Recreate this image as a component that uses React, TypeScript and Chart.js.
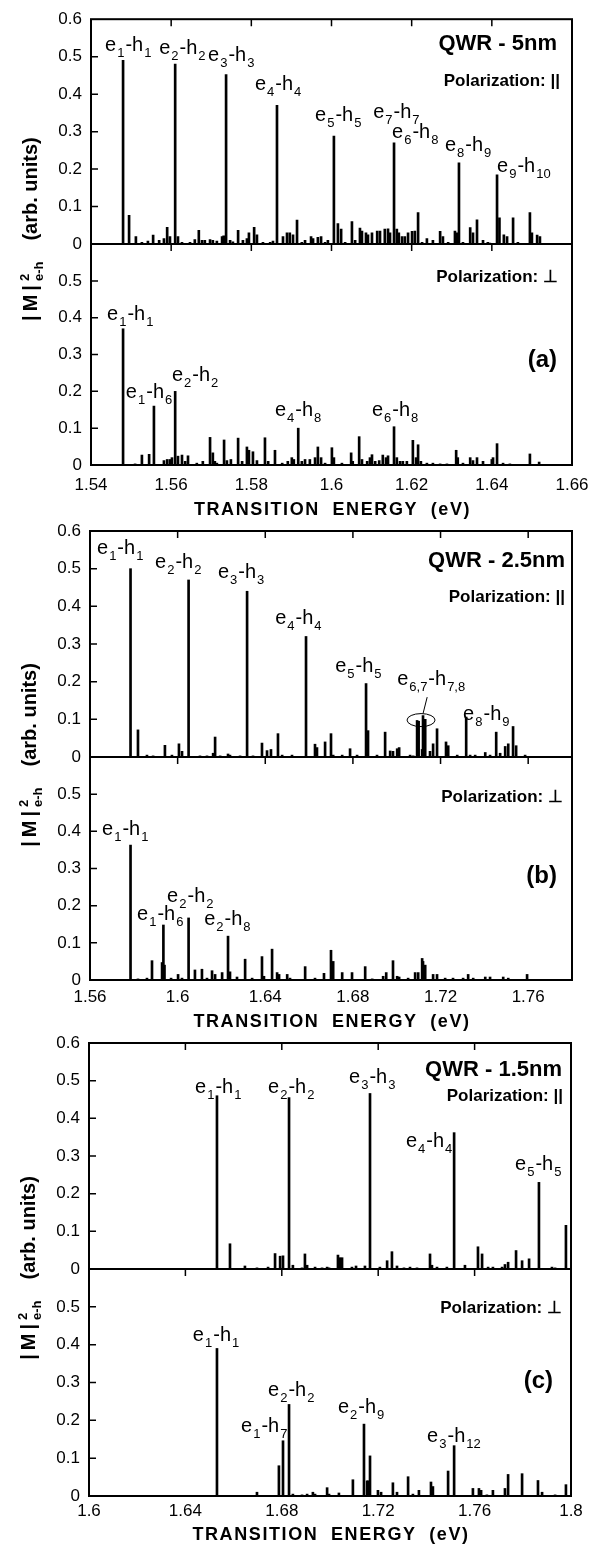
import React, { useEffect, useRef } from 'react';
import { Chart, registerables } from 'chart.js';

Chart.register(...registerables);

const FONT = '"Liberation Sans", Arial, Helvetica, sans-serif';

// ---------------- Panel (a): QWR - 5nm ----------------
const aTicks = [1.54, 1.56, 1.58, 1.6, 1.62, 1.64, 1.66];
const aPar: [number, number][] = [
  [1.548, 0.49], [1.5495, 0.077], [1.5512, 0.02], [1.5527, 0.005], [1.5542, 0.008], [1.5555, 0.024],
  [1.557, 0.01], [1.5582, 0.015], [1.559, 0.045], [1.5597, 0.02], [1.561, 0.48], [1.5617, 0.02],
  [1.5627, 0.005], [1.5647, 0.005], [1.5659, 0.012], [1.5669, 0.037], [1.5677, 0.01], [1.5684, 0.01],
  [1.5697, 0.012], [1.5704, 0.01], [1.5714, 0.008], [1.5727, 0.02], [1.5731, 0.022], [1.5737, 0.452],
  [1.5747, 0.01], [1.5754, 0.006], [1.5767, 0.037], [1.5779, 0.01], [1.5789, 0.015], [1.5794, 0.03],
  [1.5807, 0.045], [1.5814, 0.025], [1.5829, 0.005], [1.5847, 0.005], [1.5854, 0.008], [1.5864, 0.37],
  [1.5879, 0.02], [1.5889, 0.03], [1.5896, 0.03], [1.5904, 0.025], [1.5914, 0.064], [1.5926, 0.005],
  [1.5934, 0.01], [1.5949, 0.02], [1.5954, 0.015], [1.5966, 0.018], [1.5974, 0.02], [1.5984, 0.005],
  [1.5991, 0.01], [1.6006, 0.288], [1.6016, 0.055], [1.6024, 0.04], [1.6034, 0.005], [1.6051, 0.06],
  [1.6059, 0.01], [1.6071, 0.043], [1.6076, 0.035], [1.6086, 0.03], [1.6091, 0.025], [1.6101, 0.03],
  [1.6114, 0.035], [1.6121, 0.035], [1.6133, 0.04], [1.6141, 0.041], [1.6146, 0.03], [1.6156, 0.27],
  [1.6163, 0.04], [1.6168, 0.03], [1.6176, 0.02], [1.6183, 0.02], [1.6191, 0.03], [1.6201, 0.034],
  [1.6208, 0.035], [1.6216, 0.084], [1.6226, 0.005], [1.6238, 0.015], [1.6253, 0.01], [1.6271, 0.034],
  [1.6278, 0.02], [1.6291, 0.005], [1.6308, 0.035], [1.6313, 0.03], [1.6318, 0.217], [1.6328, 0.005],
  [1.6346, 0.044], [1.6353, 0.03], [1.6363, 0.065], [1.6378, 0.01], [1.639, 0.005], [1.6395, 0.003],
  [1.6413, 0.185], [1.6419, 0.07], [1.643, 0.025], [1.6438, 0.02], [1.6453, 0.07], [1.6465, 0.005],
  [1.6495, 0.084], [1.65, 0.03], [1.6513, 0.024], [1.652, 0.02],
];
const aPerp: [number, number][] = [
  [1.548, 0.37], [1.551, 0.003], [1.5527, 0.027], [1.5545, 0.029], [1.5557, 0.16], [1.5582, 0.012],
  [1.559, 0.015], [1.5597, 0.015], [1.5602, 0.02], [1.561, 0.2], [1.5617, 0.024], [1.5627, 0.027],
  [1.5635, 0.01], [1.5642, 0.025], [1.5664, 0.005], [1.5679, 0.01], [1.5697, 0.075], [1.5704, 0.033],
  [1.5709, 0.01], [1.5714, 0.005], [1.5732, 0.068], [1.5739, 0.012], [1.5749, 0.015], [1.5767, 0.073],
  [1.5777, 0.01], [1.5789, 0.049], [1.5794, 0.04], [1.5804, 0.036], [1.5814, 0.012], [1.5834, 0.074],
  [1.5842, 0.01], [1.5859, 0.04], [1.5877, 0.005], [1.5891, 0.01], [1.5901, 0.02], [1.5906, 0.015],
  [1.5917, 0.1], [1.5926, 0.01], [1.5934, 0.015], [1.5946, 0.015], [1.5959, 0.02], [1.5966, 0.049],
  [1.5974, 0.02], [1.5984, 0.005], [1.6001, 0.047], [1.6006, 0.02], [1.6026, 0.005], [1.6049, 0.033],
  [1.6053, 0.01], [1.6069, 0.077], [1.6076, 0.015], [1.6089, 0.01], [1.6096, 0.02], [1.6101, 0.028],
  [1.6109, 0.01], [1.6119, 0.012], [1.6128, 0.027], [1.6136, 0.02], [1.6141, 0.025], [1.6156, 0.104],
  [1.6163, 0.02], [1.6171, 0.01], [1.6178, 0.01], [1.6188, 0.01], [1.6203, 0.067], [1.6211, 0.02],
  [1.6216, 0.055], [1.6223, 0.01], [1.6238, 0.005], [1.6253, 0.005], [1.6271, 0.003], [1.6288, 0.003],
  [1.6311, 0.04], [1.6315, 0.02], [1.6328, 0.005], [1.6346, 0.02], [1.6353, 0.012], [1.6363, 0.02],
  [1.6378, 0.01], [1.64, 0.015], [1.6403, 0.02], [1.6413, 0.058], [1.6428, 0.005], [1.6445, 0.003],
  [1.6495, 0.03], [1.6518, 0.008],
];

// ---------------- Panel (b): QWR - 2.5nm ----------------
const bTicks = [1.56, 1.6, 1.64, 1.68, 1.72, 1.76];
const bPar: [number, number][] = [
  [1.5785, 0.5], [1.5819, 0.072], [1.586, 0.005], [1.5888, 0.003], [1.5942, 0.031], [1.5974, 0.005],
  [1.6006, 0.035], [1.602, 0.015], [1.605, 0.47], [1.6102, 0.003], [1.6134, 0.003], [1.6162, 0.01],
  [1.6171, 0.053], [1.6194, 0.003], [1.623, 0.008], [1.6239, 0.005], [1.6285, 0.003], [1.6317, 0.44],
  [1.6344, 0.003], [1.6385, 0.037], [1.6408, 0.017], [1.6426, 0.02], [1.6458, 0.062], [1.6477, 0.005],
  [1.6522, 0.005], [1.6586, 0.32], [1.6627, 0.034], [1.6636, 0.025], [1.6673, 0.04], [1.67, 0.062],
  [1.671, 0.005], [1.6751, 0.005], [1.6787, 0.022], [1.6819, 0.005], [1.686, 0.195], [1.6869, 0.07],
  [1.691, 0.005], [1.6947, 0.066], [1.697, 0.016], [1.6983, 0.015], [1.7002, 0.022], [1.7011, 0.025],
  [1.7061, 0.005], [1.7075, 0.003], [1.7093, 0.097], [1.71, 0.095], [1.7116, 0.02], [1.712, 0.11],
  [1.713, 0.1], [1.7152, 0.015], [1.7166, 0.035], [1.7184, 0.075], [1.7225, 0.04], [1.7235, 0.03],
  [1.7276, 0.005], [1.7317, 0.106], [1.7335, 0.005], [1.7358, 0.005], [1.7404, 0.012], [1.7426, 0.005],
  [1.7454, 0.066], [1.7472, 0.01], [1.7495, 0.028], [1.7509, 0.035], [1.7531, 0.081], [1.7545, 0.03],
  [1.7586, 0.005],
];
const bPerp: [number, number][] = [
  [1.5785, 0.363], [1.5819, 0.003], [1.586, 0.005], [1.5883, 0.052], [1.5929, 0.047], [1.5935, 0.148],
  [1.594, 0.04], [1.597, 0.005], [1.6002, 0.015], [1.602, 0.005], [1.605, 0.167], [1.6079, 0.027],
  [1.6111, 0.029], [1.6134, 0.005], [1.6157, 0.025], [1.6171, 0.015], [1.6203, 0.02], [1.623, 0.118],
  [1.6239, 0.022], [1.6271, 0.008], [1.6308, 0.056], [1.634, 0.005], [1.6385, 0.063], [1.6394, 0.01],
  [1.6431, 0.083], [1.6454, 0.02], [1.6463, 0.015], [1.65, 0.015], [1.6513, 0.005], [1.6582, 0.036],
  [1.6627, 0.005], [1.6668, 0.018], [1.67, 0.08], [1.671, 0.05], [1.6751, 0.02], [1.6796, 0.02],
  [1.6856, 0.036], [1.6888, 0.003], [1.6938, 0.01], [1.6952, 0.02], [1.6983, 0.052], [1.7002, 0.01],
  [1.7011, 0.008], [1.7052, 0.005], [1.7084, 0.02], [1.7098, 0.02], [1.7116, 0.058], [1.712, 0.05],
  [1.713, 0.04], [1.7166, 0.015], [1.7184, 0.015], [1.7221, 0.005], [1.7257, 0.005], [1.7303, 0.005],
  [1.7326, 0.015], [1.7349, 0.005], [1.7404, 0.008], [1.7426, 0.008], [1.7486, 0.008], [1.7509, 0.005],
  [1.7595, 0.015],
];

// ---------------- Panel (c): QWR - 1.5nm ----------------
const cTicks = [1.6, 1.64, 1.68, 1.72, 1.76, 1.8];
const cPar: [number, number][] = [
  [1.6531, 0.46], [1.6585, 0.067], [1.6647, 0.008], [1.6697, 0.003], [1.6743, 0.005], [1.6772, 0.041],
  [1.6793, 0.034], [1.6805, 0.035], [1.683, 0.455], [1.6846, 0.01], [1.6884, 0.003], [1.6896, 0.04],
  [1.6905, 0.01], [1.6938, 0.005], [1.6967, 0.003], [1.6988, 0.005], [1.6996, 0.003], [1.7033, 0.037],
  [1.7041, 0.03], [1.705, 0.03], [1.7091, 0.005], [1.7108, 0.008], [1.7145, 0.008], [1.7166, 0.466],
  [1.7207, 0.005], [1.7237, 0.022], [1.7257, 0.046], [1.7278, 0.008], [1.7307, 0.003], [1.7332, 0.005],
  [1.7361, 0.003], [1.7415, 0.04], [1.7423, 0.01], [1.7444, 0.005], [1.7485, 0.005], [1.7515, 0.362],
  [1.756, 0.01], [1.7614, 0.059], [1.7631, 0.04], [1.7656, 0.005], [1.7676, 0.005], [1.7714, 0.005],
  [1.7726, 0.012], [1.7739, 0.018], [1.7772, 0.049], [1.7797, 0.022], [1.7826, 0.027], [1.7867, 0.23],
  [1.7921, 0.005], [1.7934, 0.003], [1.7979, 0.116],
];
const cPerp: [number, number][] = [
  [1.6531, 0.39], [1.6697, 0.01], [1.6788, 0.08], [1.6805, 0.146], [1.683, 0.242], [1.6846, 0.005],
  [1.6884, 0.003], [1.6905, 0.005], [1.6929, 0.01], [1.6938, 0.005], [1.6988, 0.022], [1.6996, 0.005],
  [1.7037, 0.008], [1.7095, 0.043], [1.7141, 0.19], [1.7154, 0.04], [1.7158, 0.04], [1.7166, 0.106],
  [1.7199, 0.015], [1.7212, 0.01], [1.7261, 0.035], [1.7278, 0.01], [1.7324, 0.051], [1.7344, 0.005],
  [1.7369, 0.015], [1.7419, 0.037], [1.7427, 0.025], [1.749, 0.066], [1.7515, 0.133], [1.7593, 0.02],
  [1.7618, 0.02], [1.7627, 0.015], [1.7651, 0.003], [1.7676, 0.015], [1.7726, 0.02], [1.7739, 0.057],
  [1.7797, 0.059], [1.7863, 0.041], [1.788, 0.01], [1.7934, 0.003], [1.7979, 0.03],
];

// ---------------- Peak annotations (anchor in data units: left edge, baseline) ----------------
interface Lbl { t: string; x: number; y: number }
const aParLabels: Lbl[] = [
  { t: 'e_{1}-h_{1}', x: 1.5435, y: 0.516 }, { t: 'e_{2}-h_{2}', x: 1.557, y: 0.508 },
  { t: 'e_{3}-h_{3}', x: 1.5692, y: 0.489 }, { t: 'e_{4}-h_{4}', x: 1.5809, y: 0.41 },
  { t: 'e_{5}-h_{5}', x: 1.5959, y: 0.328 }, { t: 'e_{7}-h_{7}', x: 1.6104, y: 0.336 },
  { t: 'e_{6}-h_{8}', x: 1.6151, y: 0.283 }, { t: 'e_{8}-h_{9}', x: 1.6283, y: 0.249 },
  { t: 'e_{9}-h_{10}', x: 1.6413, y: 0.193 },
];
const aPerpLabels: Lbl[] = [
  { t: 'e_{1}-h_{1}', x: 1.544, y: 0.395 }, { t: 'e_{1}-h_{6}', x: 1.5487, y: 0.181 },
  { t: 'e_{2}-h_{2}', x: 1.5602, y: 0.227 }, { t: 'e_{4}-h_{8}', x: 1.5859, y: 0.133 },
  { t: 'e_{6}-h_{8}', x: 1.6101, y: 0.133 },
];
const bParLabels: Lbl[] = [
  { t: 'e_{1}-h_{1}', x: 1.5632, y: 0.54 }, { t: 'e_{2}-h_{2}', x: 1.5897, y: 0.503 },
  { t: 'e_{3}-h_{3}', x: 1.6184, y: 0.474 }, { t: 'e_{4}-h_{4}', x: 1.6445, y: 0.354 },
  { t: 'e_{5}-h_{5}', x: 1.6719, y: 0.225 }, { t: 'e_{6,7}-h_{7,8}', x: 1.7002, y: 0.19 },
  { t: 'e_{8}-h_{9}', x: 1.7303, y: 0.098 },
];
const bPerpLabels: Lbl[] = [
  { t: 'e_{1}-h_{1}', x: 1.5655, y: 0.39 }, { t: 'e_{1}-h_{6}', x: 1.5815, y: 0.161 },
  { t: 'e_{2}-h_{2}', x: 1.5952, y: 0.21 }, { t: 'e_{2}-h_{8}', x: 1.6121, y: 0.148 },
];
const cParLabels: Lbl[] = [
  { t: 'e_{1}-h_{1}', x: 1.644, y: 0.468 }, { t: 'e_{2}-h_{2}', x: 1.6743, y: 0.468 },
  { t: 'e_{3}-h_{3}', x: 1.7079, y: 0.495 }, { t: 'e_{4}-h_{4}', x: 1.7315, y: 0.325 },
  { t: 'e_{5}-h_{5}', x: 1.7768, y: 0.262 },
];
const cPerpLabels: Lbl[] = [
  { t: 'e_{1}-h_{1}', x: 1.6431, y: 0.41 }, { t: 'e_{1}-h_{7}', x: 1.6631, y: 0.17 },
  { t: 'e_{2}-h_{2}', x: 1.6743, y: 0.263 }, { t: 'e_{2}-h_{9}', x: 1.7033, y: 0.22 },
  { t: 'e_{3}-h_{12}', x: 1.7403, y: 0.144 },
];

const X_TITLE = 'TRANSITION ENERGY (eV)';
const Y_TITLE = '|\u2009M\u2009|^{2}_{e-h}\u2003(arb. units)';

interface Ellipse { x: number; y: number; rx: number; ry: number; from: [number, number]; to: [number, number] }
interface Panel {
  canvasTop: number; canvasH: number; padTop: number; padRight: number; axisW: number; xH: number;
  xTitleDy: number; tickPad: number; parW: number; perpW: number;
  xMin: number; xMax: number; xTicks: number[];
  par: [number, number][]; perp: [number, number][];
  parLabels: Lbl[]; perpLabels: Lbl[];
  title: string; letter: string;
  qwr: [number, number]; polPar: [number, number]; polPerp: [number, number];
  letterPos: [number, number]; yTitle: [number, number];
  ellipse?: Ellipse;
}

const PANELS: Panel[] = [
  {
    canvasTop: 0, canvasH: 522, padTop: 15, padRight: 29, axisW: 91, xH: 57, xTitleDy: 50, tickPad: 10,
    parW: 227, perpW: 223, xMin: 1.54, xMax: 1.66, xTicks: aTicks, par: aPar, perp: aPerp,
    parLabels: aParLabels, perpLabels: aPerpLabels, title: 'QWR - 5nm', letter: '(a)',
    qwr: [-15, 31], polPar: [-12, 67], polPerp: [-14, 38], letterPos: [-15, 116], yTitle: [30, -15],
  },
  {
    canvasTop: 505, canvasH: 533, padTop: 26, padRight: 29, axisW: 90, xH: 58, xTitleDy: 47, tickPad: 7,
    parW: 226, perpW: 223, xMin: 1.56, xMax: 1.78, xTicks: bTicks, par: bPar, perp: bPerp,
    parLabels: bParLabels, perpLabels: bPerpLabels, title: 'QWR - 2.5nm', letter: '(b)',
    qwr: [-7, 36], polPar: [-7, 71], polPerp: [-9, 45], letterPos: [-15, 119], yTitle: [29, -2],
    ellipse: { x: 1.7111, y: 0.098, rx: 14, ry: 6.5, from: [1.7139, 0.159], to: [1.712, 0.115] },
  },
  {
    canvasTop: 1018, canvasH: 527, padTop: 25, padRight: 30, axisW: 89, xH: 49, xTitleDy: 44, tickPad: 5,
    parW: 226, perpW: 227, xMin: 1.6, xMax: 1.8, xTicks: cTicks, par: cPar, perp: cPerp,
    parLabels: cParLabels, perpLabels: cPerpLabels, title: 'QWR - 1.5nm', letter: '(c)',
    qwr: [-9, 33], polPar: [-8, 58], polPerp: [-9, 44], letterPos: [-18, 112], yTitle: [28, -1],
  },
];

type Seg = { t: string; k: 'n' | 'sub' | 'sup' };
function parseRich(s: string): Seg[] {
  const out: Seg[] = [];
  let buf = '';
  let i = 0;
  while (i < s.length) {
    const c = s[i];
    if ((c === '_' || c === '^') && s[i + 1] === '{') {
      if (buf) { out.push({ t: buf, k: 'n' }); buf = ''; }
      const j = s.indexOf('}', i);
      out.push({ t: s.slice(i + 2, j), k: c === '_' ? 'sub' : 'sup' });
      i = j + 1;
    } else { buf += c; i++; }
  }
  if (buf) out.push({ t: buf, k: 'n' });
  return out;
}

function drawRich(ctx: CanvasRenderingContext2D, text: string, x: number, y: number, size: number, bold: boolean, align: 'left' | 'center', gap = 1) {
  const segs = parseRich(text);
  const small = Math.round(size * 0.65);
  const w = bold ? 'bold ' : '';
  const fN = `${w}${size}px ${FONT}`;
  const fS = `${w}${small}px ${FONT}`;
  const items: { t: string; k: string; dx: number }[] = [];
  let cur = 0;
  for (let i = 0; i < segs.length; i++) {
    const s = segs[i];
    if (s.k === 'n') {
      ctx.font = fN;
      items.push({ t: s.t, k: s.k, dx: cur });
      cur += ctx.measureText(s.t).width;
      continue;
    }
    ctx.font = fS;
    cur += gap;
    let wd = ctx.measureText(s.t).width;
    items.push({ t: s.t, k: s.k, dx: cur });
    const nx = segs[i + 1];
    if (s.k === 'sup' && nx && nx.k === 'sub') {
      items.push({ t: nx.t, k: nx.k, dx: cur });
      wd = Math.max(wd, ctx.measureText(nx.t).width);
      i++;
    }
    cur += wd + 1;
  }
  const x0 = align === 'center' ? x - cur / 2 : x;
  ctx.textAlign = 'left';
  ctx.textBaseline = 'alphabetic';
  for (const it of items) {
    ctx.font = it.k === 'n' ? fN : fS;
    const yy = it.k === 'sub' ? y + size * 0.3 : it.k === 'sup' ? y - size * 0.42 : y;
    ctx.fillText(it.t, x0 + it.dx, yy);
  }
}

const yFmt = (v: number) => { const r = Math.round(v * 10) / 10; return r === 0 ? '0' : String(r); };

function makeChart(canvas: HTMLCanvasElement, p: Panel): Chart {
  const overlay = {
    id: 'overlay',
    afterDraw(chart: any) {
      const ctx: CanvasRenderingContext2D = chart.ctx;
      const { left, right, top, bottom } = chart.chartArea;
      const xs = chart.scales.x;
      const yP = chart.scales.yPar;
      const yQ = chart.scales.yPerp;
      const junction = yP.getPixelForValue(0);
      ctx.save();
      ctx.strokeStyle = '#000';
      ctx.fillStyle = '#000';
      ctx.lineWidth = 2;
      ctx.strokeRect(left, top, right - left, bottom - top);
      ctx.beginPath();
      ctx.moveTo(left, junction);
      ctx.lineTo(right, junction);
      ctx.stroke();
      // inward tick marks
      ctx.lineWidth = 1.5;
      ctx.beginPath();
      for (const t of xs.ticks) {
        const px = xs.getPixelForValue(t.value);
        if (px <= left + 2 || px >= right - 2) continue;
        ctx.moveTo(px, top); ctx.lineTo(px, top + 7);
        ctx.moveTo(px, junction); ctx.lineTo(px, junction + 7);
      }
      for (const s of [yP, yQ]) {
        for (const t of s.ticks) {
          const py = s.getPixelForValue(t.value);
          if (py <= s.top + 1 || py >= s.bottom - 1) continue;
          ctx.moveTo(left, py); ctx.lineTo(left + 7, py);
        }
      }
      ctx.stroke();
      // peak labels
      for (const l of p.parLabels) drawRich(ctx, l.t, xs.getPixelForValue(l.x), yP.getPixelForValue(l.y), 20, false, 'left');
      for (const l of p.perpLabels) drawRich(ctx, l.t, xs.getPixelForValue(l.x), yQ.getPixelForValue(l.y), 20, false, 'left');
      // ellipse marker
      if (p.ellipse) {
        const e = p.ellipse;
        ctx.lineWidth = 1;
        ctx.beginPath();
        ctx.ellipse(xs.getPixelForValue(e.x), yP.getPixelForValue(e.y), e.rx, e.ry, 0, 0, Math.PI * 2);
        ctx.stroke();
        ctx.beginPath();
        ctx.moveTo(xs.getPixelForValue(e.from[0]), yP.getPixelForValue(e.from[1]));
        ctx.lineTo(xs.getPixelForValue(e.to[0]), yP.getPixelForValue(e.to[1]));
        ctx.stroke();
      }
      // panel texts
      ctx.textAlign = 'right';
      ctx.textBaseline = 'alphabetic';
      ctx.font = `bold 22px ${FONT}`;
      ctx.fillText(p.title, right + p.qwr[0], top + p.qwr[1]);
      ctx.font = `bold 17px ${FONT}`;
      ctx.fillText('Polarization: ||', right + p.polPar[0], top + p.polPar[1]);
      ctx.fillText('Polarization: \u22A5', right + p.polPerp[0], junction + p.polPerp[1]);
      ctx.font = `bold 24px ${FONT}`;
      ctx.textBaseline = 'middle';
      ctx.fillText(p.letter, right + p.letterPos[0], junction + p.letterPos[1]);
      // x-axis title (letter-spaced)
      ctx.textBaseline = 'alphabetic';
      ctx.textAlign = 'center';
      ctx.font = `bold 18px ${FONT}`;
      const anyCtx = ctx as any;
      anyCtx.letterSpacing = '1.6px';
      anyCtx.wordSpacing = '6px';
      ctx.fillText(X_TITLE, (left + right) / 2 + 1, bottom + p.xTitleDy);
      anyCtx.letterSpacing = '0px';
      anyCtx.wordSpacing = '0px';
      // y title (rotated)
      ctx.save();
      ctx.translate(p.yTitle[0], junction + p.yTitle[1]);
      ctx.rotate(-Math.PI / 2);
      drawRich(ctx, Y_TITLE, 0, 7, 20, true, 'center', 4);
      ctx.restore();
      ctx.restore();
    },
  };

  const barDs = (pts: [number, number][], axis: string, label: string) => ({
    label,
    data: pts.map(([x, y]) => ({ x, y })),
    yAxisID: axis,
    xAxisID: 'x',
    stack: 'one',
    backgroundColor: '#000',
    borderWidth: 0,
    barThickness: 2,
  });

  const yScale = (weight: number, hideTop: boolean) => ({
    type: 'linear',
    position: 'left',
    stack: 'pair',
    stackWeight: weight,
    stacked: false,
    min: 0,
    max: 0.6,
    grid: { display: false, drawTicks: false },
    border: { display: false },
    ticks: {
      stepSize: 0.1,
      autoSkip: false,
      padding: 9,
      color: '#000',
      font: { family: FONT, size: 17 },
      callback: (v: number) => (hideTop && v > 0.55 ? '' : yFmt(v)),
    },
    afterFit: (s: any) => { s.width = p.axisW; },
  });

  return new Chart(canvas, {
    type: 'bar',
    data: {
      datasets: [barDs(p.perp, 'yPerp', 'perp'), barDs(p.par, 'yPar', 'par')] as any,
    },
    options: {
      animation: false,
      responsive: false,
      maintainAspectRatio: false,
      events: [],
      layout: { padding: { top: p.padTop, right: p.padRight, left: 0, bottom: 0 } },
      plugins: { legend: { display: false }, tooltip: { enabled: false }, title: { display: false } },
      scales: {
        x: {
          type: 'linear',
          position: 'bottom',
          min: p.xMin,
          max: p.xMax,
          offset: false,
          grid: { display: false, drawTicks: false, offset: false },
          border: { display: false },
          afterBuildTicks: (s: any) => { s.ticks = p.xTicks.map((v) => ({ value: v })); },
          afterFit: (s: any) => { s.height = p.xH; },
          ticks: {
            autoSkip: false,
            maxRotation: 0,
            padding: p.tickPad,
            color: '#000',
            font: { family: FONT, size: 17 },
            callback: (v: number) => String(Math.round(v * 100) / 100),
          },
          title: { display: false, text: X_TITLE },
        },
        yPerp: yScale(p.perpW, true),
        yPar: yScale(p.parW, false),
      } as any,
    },
    plugins: [overlay],
  } as any);
}

export default function App() {
  const r0 = useRef<HTMLCanvasElement>(null);
  const r1 = useRef<HTMLCanvasElement>(null);
  const r2 = useRef<HTMLCanvasElement>(null);
  const refs = [r0, r1, r2];
  useEffect(() => {
    document.body.style.margin = '0';
    const charts = PANELS.map((p, i) => makeChart(refs[i].current as HTMLCanvasElement, p));
    return () => charts.forEach((c) => c.destroy());
  }, []);
  return (
    <div style={{ position: 'relative', width: 601, height: 1545, background: '#fff', overflow: 'hidden' }}>
      {PANELS.map((p, i) => (
        <canvas
          key={i}
          ref={refs[i]}
          width={601}
          height={p.canvasH}
          style={{ position: 'absolute', left: 0, top: p.canvasTop, width: 601, height: p.canvasH }}
        />
      ))}
    </div>
  );
}
